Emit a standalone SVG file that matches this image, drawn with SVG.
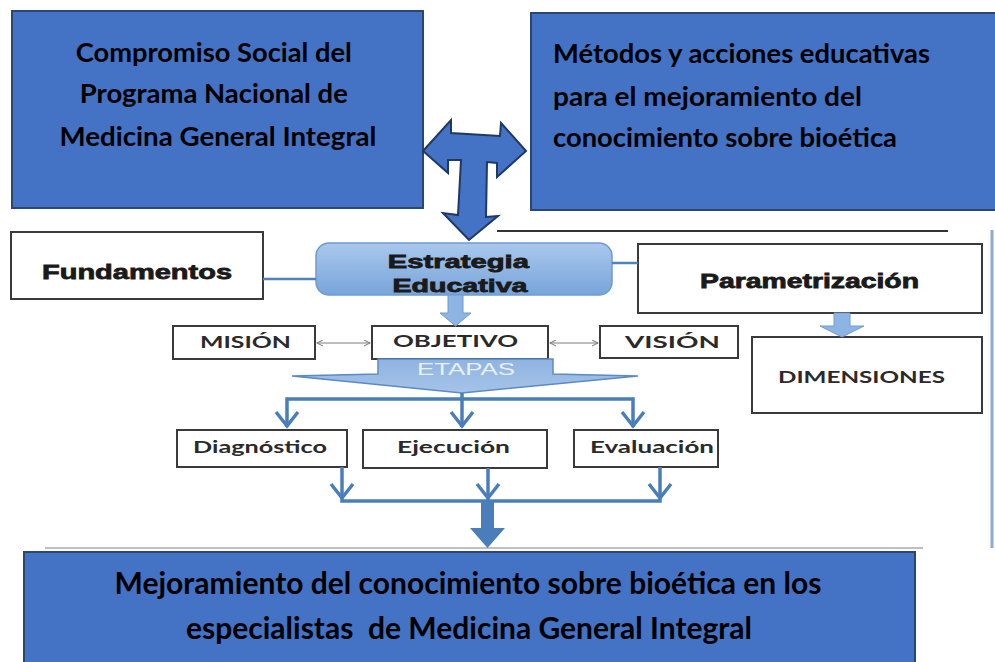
<svg xmlns="http://www.w3.org/2000/svg" width="995" height="662" viewBox="0 0 995 662">
<defs>
<style>
.big{fill:#4472C4;stroke:#2A4675;stroke-width:2}
.bt{font-family:Lato,"Noto Sans",sans-serif;font-weight:bold;fill:#000}
.box{fill:#fff;stroke:#3a3a3a;stroke-width:2}
.ab{font-family:"Liberation Sans",Arial,sans-serif;font-weight:bold;fill:#1a1a1a;stroke:#1a1a1a;stroke-width:0.8}
.cb{font-family:Lato,"Noto Sans",sans-serif;font-weight:bold;fill:#2a2a2a}
.bl{fill:none;stroke:#4A7EBB;stroke-width:3.5;stroke-linejoin:miter}
.lb{fill:#8DB4E2;stroke:#6E9BD2;stroke-width:1}
.thin{fill:none;stroke:#7f7f7f;stroke-width:1.2}
</style>
<linearGradient id="gEst" x1="0" y1="0" x2="0" y2="1">
<stop offset="0" stop-color="#A9C8EC"/>
<stop offset="1" stop-color="#78A4DA"/>
</linearGradient>
<linearGradient id="gEt" x1="0" y1="0" x2="0" y2="1">
<stop offset="0" stop-color="#8FB3E0"/>
<stop offset="1" stop-color="#A6C3E8"/>
</linearGradient>
<marker id="sa" viewBox="0 0 8 8" refX="7" refY="4" markerWidth="7" markerHeight="7" orient="auto-start-reverse" markerUnits="userSpaceOnUse">
<path d="M0,0.5 L7,4 L0,7.5" fill="none" stroke="#7f7f7f" stroke-width="1.2"/>
</marker>
</defs>
<rect width="995" height="662" fill="#fff"/>

<g id="frame-lines">
<line x1="497" y1="231" x2="948" y2="231" stroke="#333" stroke-width="2"/>
<line x1="992" y1="230" x2="992" y2="548" stroke="#8FAAD2" stroke-width="3"/>
<line x1="45" y1="548" x2="923" y2="548" stroke="#BFBFBF" stroke-width="2"/>
</g>

<g id="compromiso">
<rect class="big" x="12" y="11" width="411" height="197"/>
<text class="bt" font-size="26" text-anchor="middle">
<tspan x="217" y="62" textLength="276" lengthAdjust="spacingAndGlyphs">Compromiso Social del</tspan>
<tspan x="217" y="103" textLength="268" lengthAdjust="spacingAndGlyphs">Programa Nacional de</tspan>
<tspan x="218" y="146" textLength="317" lengthAdjust="spacingAndGlyphs">Medicina General Integral</tspan>
</text>
</g>

<g id="metodos">
<rect class="big" x="531" y="13" width="470" height="197"/>
<text class="bt" font-size="26">
<tspan x="553" y="63" textLength="377" lengthAdjust="spacingAndGlyphs">Métodos y acciones educativas</tspan>
<tspan x="553" y="106" textLength="309" lengthAdjust="spacingAndGlyphs">para el mejoramiento del</tspan>
<tspan x="553" y="147" textLength="344" lengthAdjust="spacingAndGlyphs">conocimiento sobre bioética</tspan>
</text>
</g>

<g id="mejoramiento">
<rect class="big" x="24" y="552" width="891" height="120"/>
<text class="bt" font-size="30" text-anchor="middle" style="white-space:pre" xml:space="preserve"><tspan x="468" y="594" textLength="707" lengthAdjust="spacingAndGlyphs">Mejoramiento del conocimiento sobre bioética en los</tspan><tspan x="469" y="639" textLength="566" lengthAdjust="spacingAndGlyphs">especialistas  de Medicina General Integral</tspan></text>
</g>

<g id="fundamentos">
<rect class="box" x="11" y="232" width="252" height="67"/>
<text class="ab" x="42" y="279" font-size="21" textLength="190" lengthAdjust="spacingAndGlyphs">Fundamentos</text>
</g>

<g id="estrategia">
<rect x="316" y="243" width="296" height="52" rx="13" fill="url(#gEst)" stroke="#6E9BD2" stroke-width="1.5"/>
<text class="ab" font-size="19" text-anchor="middle">
<tspan x="461" y="268" textLength="141" lengthAdjust="spacingAndGlyphs">Estrategia</tspan>
<tspan x="460" y="292" textLength="135" lengthAdjust="spacingAndGlyphs">Educativa</tspan>
</text>
</g>

<g id="parametrizacion">
<rect class="box" x="638" y="244" width="344" height="69"/>
<text class="ab" x="700" y="288" font-size="20" textLength="219" lengthAdjust="spacingAndGlyphs">Parametrización</text>
</g>

<g id="dimensiones">
<rect class="box" x="752" y="337" width="230" height="76"/>
<text class="cb" x="778" y="383" font-size="17" textLength="167" lengthAdjust="spacingAndGlyphs">DIMENSIONES</text>
</g>

<g id="mision">
<rect class="box" x="173" y="326" width="142" height="33"/>
<text class="cb" x="200" y="348" font-size="17" textLength="91" lengthAdjust="spacingAndGlyphs">MISIÓN</text>
</g>

<g id="objetivo">
<rect class="box" x="372" y="326" width="176" height="33"/>
<text class="cb" x="393" y="347" font-size="17" textLength="125" lengthAdjust="spacingAndGlyphs">OBJETIVO</text>
</g>

<g id="vision">
<rect class="box" x="600" y="326" width="138" height="32"/>
<text class="cb" x="625" y="348" font-size="17" textLength="95" lengthAdjust="spacingAndGlyphs">VISIÓN</text>
</g>

<g id="etapas">
<polygon points="378,359 553,359 553,374 638,376 462,393 292,376 378,374" fill="url(#gEt)" stroke="#5B8AC6" stroke-width="1.5"/>
<text x="466" y="375" font-family="'Liberation Sans',Arial,sans-serif" font-size="16" fill="#E8F0FA" text-anchor="middle" textLength="98" lengthAdjust="spacingAndGlyphs">ETAPAS</text>
</g>

<g id="diagnostico">
<rect class="box" x="177" y="430" width="170" height="37"/>
<text class="cb" x="193" y="453" font-size="17" textLength="134" lengthAdjust="spacingAndGlyphs">Diagnóstico</text>
</g>

<g id="ejecucion">
<rect class="box" x="363" y="430" width="184" height="38"/>
<text class="cb" x="397" y="453" font-size="17" textLength="113" lengthAdjust="spacingAndGlyphs">Ejecución</text>
</g>

<g id="evaluacion">
<rect class="box" x="574" y="430" width="144" height="37"/>
<text class="cb" x="590" y="453" font-size="17" textLength="124" lengthAdjust="spacingAndGlyphs">Evaluación</text>
</g>

<g id="connectors">
<polygon points="423,151 451,120 451,133 500,136 501,123 526,151 497,177 497,163 487,162 486,217 498,216 469,240 443,213 458,215 461,160 448,160 448,173" fill="#4472C4" stroke="#1F3864" stroke-width="2" stroke-linejoin="miter"/>
<line x1="263" y1="279" x2="316" y2="279" stroke="#4F81BD" stroke-width="2.5"/>
<line x1="612" y1="263" x2="638" y2="263" stroke="#4F81BD" stroke-width="2.5"/>
<polygon class="lb" points="448,295 463,295 463,313 471,313 455.5,326 440,313 448,313"/>
<polygon class="lb" points="834,313 850,313 850,326 864,326 842,337 820,326 834,326"/>
<line class="thin" x1="317" y1="343" x2="370" y2="343" marker-start="url(#sa)" marker-end="url(#sa)"/>
<line class="thin" x1="550" y1="343" x2="598" y2="343" marker-start="url(#sa)" marker-end="url(#sa)"/>
<polyline class="bl" points="287,427 287,399 633,399 633,427"/>
<line class="bl" x1="462" y1="393" x2="462" y2="427"/>
<polyline class="bl" points="276,412 287,426 298,412"/>
<polyline class="bl" points="451,412 462,426 473,412"/>
<polyline class="bl" points="622,412 633,426 644,412"/>
<polyline class="bl" points="342,467 342,501 660,501 660,467"/>
<line class="bl" x1="488" y1="468" x2="488" y2="501"/>
<polyline class="bl" points="331,484 342,498 353,484"/>
<polyline class="bl" points="477,484 488,498 499,484"/>
<polyline class="bl" points="649,484 660,498 671,484"/>
<polygon points="481,501 494,501 494,528 505,528 487.5,548 470,528 481,528" fill="#4A7EBB"/>
</g>
</svg>
